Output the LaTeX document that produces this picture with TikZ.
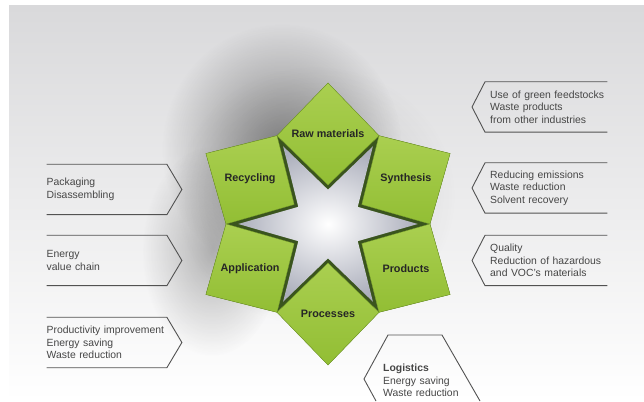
\documentclass[tikz,border=0pt]{standalone}
\usepackage{fontspec}
\setmainfont{Liberation Sans}
\usetikzlibrary{positioning,calc,fadings}
\definecolor{leaf}{RGB}{146,190,52}
\definecolor{leaflight}{RGB}{170,207,80}
\definecolor{leafdark}{RGB}{120,162,40}
\definecolor{wall}{RGB}{58,84,30}
\definecolor{holegray}{RGB}{172,175,188}
\definecolor{bgtop}{RGB}{217,217,219}
\definecolor{bgmid}{RGB}{232,232,234}
\definecolor{txt}{RGB}{70,70,70}
\tikzfading[name=softspot, inner color=transparent!0, outer color=transparent!100]
\tikzset{
    piece/.style={draw=leafdark, line width=0.4pt, top color=leaflight, bottom color=leaf},
    tag/.style={font=\fontsize{10.8}{12}\selectfont\bfseries, text=black!85, inner sep=0pt},
    note/.style={font=\fontsize{10.4}{12.4}\selectfont, text=txt, align=left, text width=#1, inner xsep=0pt, inner ysep=0pt, minimum height=50pt},
    bracket/.style={draw=black!68, line width=0.9pt},
    haze/.style={fill=black!75, opacity=#1, path fading=softspot}
}

\begin{document}
\begin{tikzpicture}[x=1pt, y=1pt]
    \useasboundingbox (0,0) rectangle (644,401);
    \fill[white] (0,0) rectangle (644,401);
    \shade[top color=bgtop, middle color=bgmid, bottom color=white] (9,0) rectangle (644,395);
    % soft shadow behind the star
    \fill[haze=0.6] (282,252) ellipse (120 and 125);
    \fill[haze=0.35] (212,150) ellipse (70 and 105);
    \fill[haze=0.2] (315,205) ellipse (140 and 130);
    \begin{scope}[shift={(328,177)}]
        % star shaped hole
        \fill[wall] (90:39) \foreach \a in {30,-30,-90,-150,150} { -- (\a+30:102) -- (\a:39) } -- (120:102) -- cycle;
        \shade[inner color=white, outer color=holegray, scale=0.88]
            (90:39) \foreach \a in {30,-30,-90,-150,150} { -- (\a+30:102) -- (\a:39) } -- (120:102) -- cycle;
        % the six pieces
        \foreach \a/\n/\t in {90/raw/Raw materials, 30/syn/Synthesis, -30/prod/Products, -90/proc/Processes, -150/app/Application, 150/rec/Recycling} {
            \fill[piece] (\a:141) -- (\a+30:102) -- (\a:39) -- (\a-30:102) -- cycle;
            \node[tag] (\n) at (\a:90) {\t};
        }
    \end{scope}
    % notes on the right
    \node[note=117pt, anchor=west] (R1) at (490,294) {Use of green feedstocks\\Waste products\\from other industries};
    \node[note=117pt, anchor=west] (R2) at (490,213) {Reducing emissions\\Waste reduction\\Solvent recovery};
    \node[note=117pt, anchor=west] (R3) at (490,140.5) {Quality\\Reduction of hazardous\\and VOC's materials};
    \foreach \r in {R1,R2,R3}
        \draw[bracket] (\r.north east) -- ([xshift=-5pt]\r.north west) -- ([xshift=-18pt]\r.west) -- ([xshift=-5pt]\r.south west) -- (\r.south east);
    % notes on the left
    \node[note=120pt, anchor=west] (L1) at (46.5,211.5) {Packaging\\Disassembling};
    \node[note=120pt, anchor=west] (L2) at (46.5,140.5) {Energy\\value chain};
    \node[note=120pt, anchor=west] (L3) at (46.5,58.5) {Productivity improvement\\Energy saving\\Waste reduction};
    \foreach \l in {L1,L2,L3}
        \draw[bracket] (\l.north west) -- (\l.north east) -- ([xshift=15pt]\l.east) -- (\l.south east) -- (\l.south west);
    % logistics
    \node[note=90pt, anchor=west] (logi) at (383,20.5) {\textbf{Logistics}\\Energy saving\\Waste reduction};
    \draw[bracket] (376,0) -- (364,22) -- (388,66) -- (442,66) -- (480,0);
\end{tikzpicture}
\end{document}
